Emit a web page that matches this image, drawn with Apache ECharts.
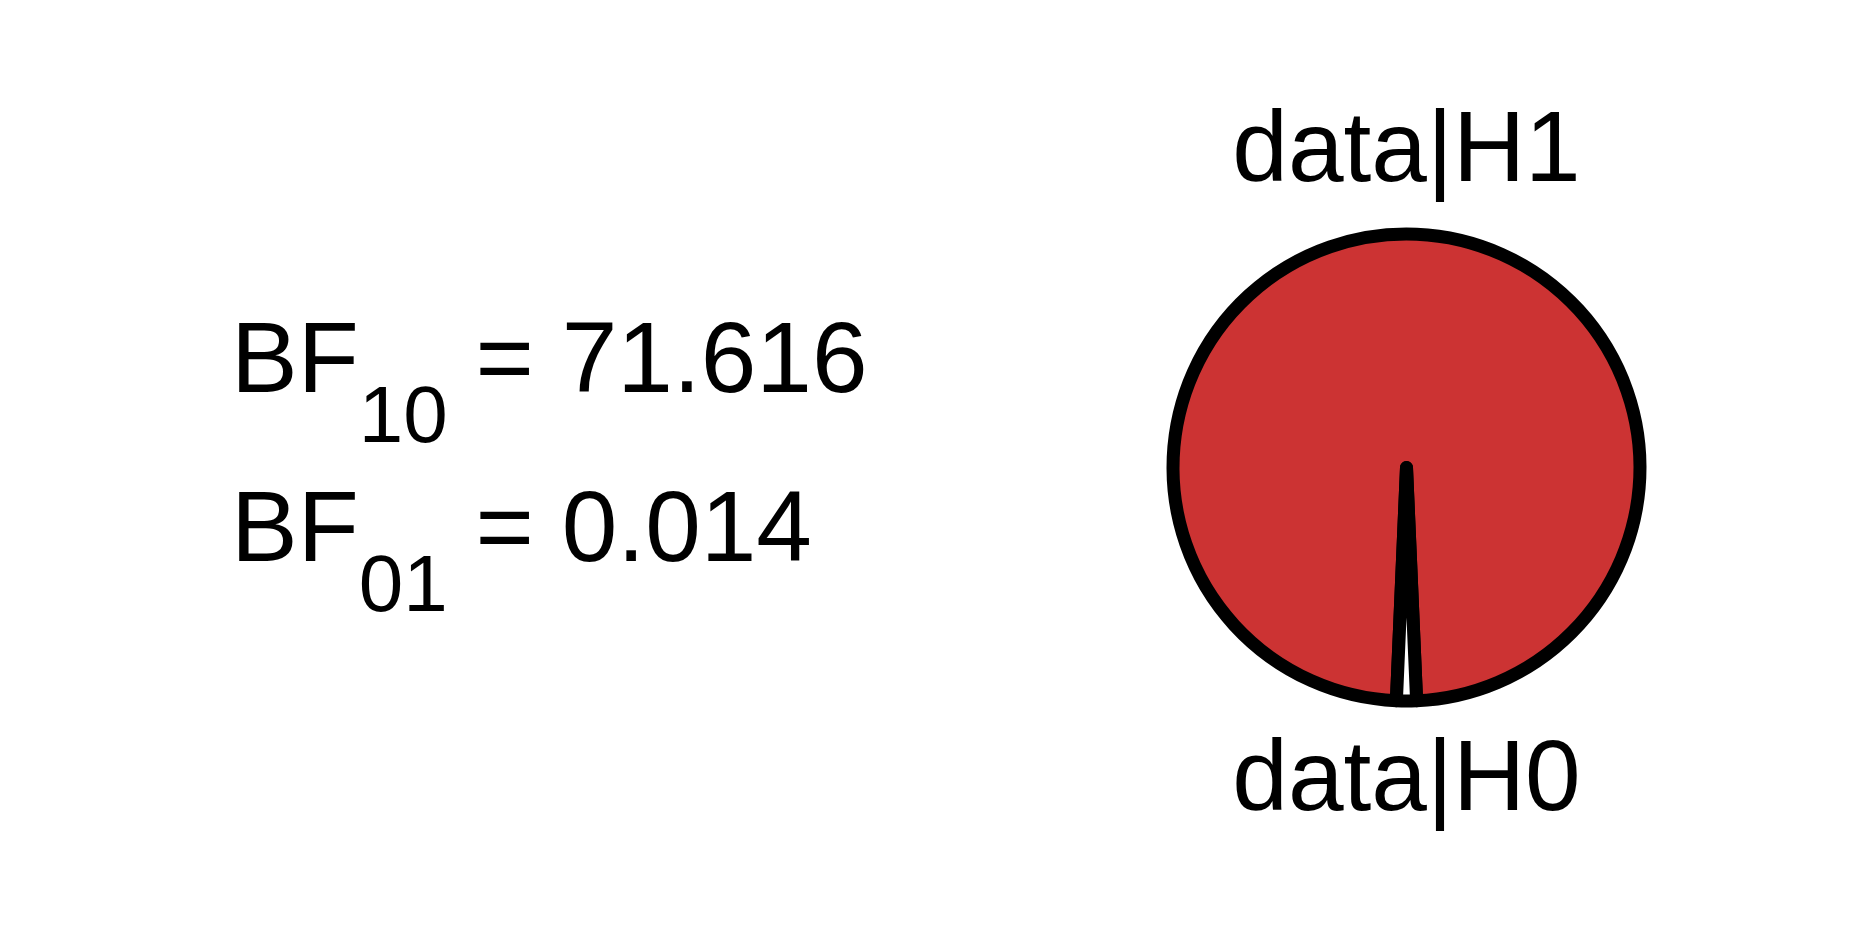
<!DOCTYPE html>
<html>
<head>
<meta charset="utf-8">
<style>
html,body{margin:0;padding:0;background:#fff;}
#chart{width:1875px;height:938px;}
</style>
<script src="https://cdn.jsdelivr.net/npm/echarts@6/dist/echarts.min.js"></script>
</head>
<body>
<div id="chart"></div>
<script>
// Data
const categories = ['data|H1', 'data|H0'];
const posteriorValues = [0.98623, 0.01377];
const sliceColors = ['#cc3333', '#ffffff'];
const bfSubscripts = ['10', '01'];
const bfValues = ['71.616', '0.014'];

const FONT = 'Liberation Sans, Arimo, Arial, sans-serif';

const chart = echarts.init(document.getElementById('chart'), null, {renderer: 'canvas'});

const richStyles = {
  b: {fontFamily: FONT, fontSize: 100, fontWeight: 'normal', lineHeight: 100, color: '#000', verticalAlign: 'top'},
  s: {fontFamily: FONT, fontSize: 80, fontWeight: 'normal', lineHeight: 80, color: '#000', verticalAlign: 'top', padding: [66, 0, 0, 0]}
};

const bfTitles = bfSubscripts.map((sub, i) => ({
  text: '{b|BF}{s|' + sub + '}{b| = ' + bfValues[i] + '}',
  left: 231,
  top: i === 0 ? 314 : 483,
  padding: 0,
  textStyle: {fontFamily: FONT, fontWeight: 'normal', rich: richStyles}
}));

// H0 slice is centred on the bottom of the pie
const startAngle = 270 - 180 * posteriorValues[1];

const option = {
  backgroundColor: '#ffffff',
  animation: false,
  title: bfTitles,
  series: [{
    type: 'pie',
    center: [1406.5, 467.5],
    radius: 233.5,
    startAngle: startAngle,
    clockwise: true,
    avoidLabelOverlap: false,
    silent: true,
    minAngle: 0,
    data: categories.map((name, i) => ({
      name: name,
      value: posteriorValues[i],
      itemStyle: {color: sliceColors[i]}
    })),
    itemStyle: {borderColor: '#000000', borderWidth: 13, borderJoin: 'round'},
    label: {
      show: true,
      position: 'outside',
      formatter: '{b}',
      fontFamily: FONT,
      fontWeight: 'normal',
      fontSize: 100,
      color: '#000'
    },
    labelLine: {show: false},
    labelLayout: function (params) {
      const r = params.rect;
      if (params.dataIndex === 0) {
        return {x: r.x + r.width / 2, y: r.y - 74, align: 'center', verticalAlign: 'middle'};
      }
      return {x: r.x + r.width / 2, y: r.y + r.height + 75, align: 'center', verticalAlign: 'middle'};
    },
    emphasis: {disabled: true}
  }]
};

chart.setOption(option);
</script>
</body>
</html>
